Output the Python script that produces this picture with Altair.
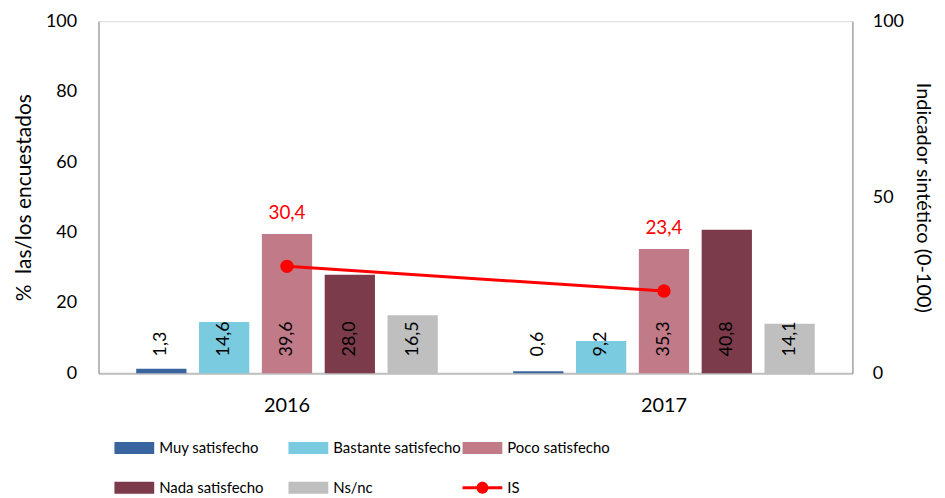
import altair as alt
import pandas as pd

years = ["2016", "2017"]
categories = ["Muy satisfecho", "Bastante satisfecho", "Poco satisfecho", "Nada satisfecho", "Ns/nc"]
values_2016 = [1.3, 14.6, 39.6, 28.0, 16.5]
values_2017 = [0.6, 9.2, 35.3, 40.8, 14.1]
is_values = [30.4, 23.4]
colors = ["#3A64A0", "#7BCBE0", "#C17A88", "#7B3B4B", "#BFBFBF", "#FF0000"]
legend_domain = categories + ["IS"]

rows = []
for y, vals in zip(years, [values_2016, values_2017]):
    for c, v in zip(categories, vals):
        rows.append({"year": y, "cat": c, "val": v, "lab": f"{v:.1f}".replace(".", ",")})
bars_df = pd.DataFrame(rows)

is_df = pd.DataFrame({
    "year": years,
    "serie": ["IS", "IS"],
    "is": is_values,
    "poco": [values_2016[2], values_2017[2]],
    "lab": [f"{v:.1f}".replace(".", ",") for v in is_values],
})

FONT = "Lato"
color_scale = alt.Scale(domain=legend_domain, range=colors)

rect_path = "M-1,-0.3H1V0.3H-1Z"
line_path = "M-1,-0.07H1V0.07H-1Z M0.3,0 A0.3,0.3 0 1,1 -0.3,0 A0.3,0.3 0 1,1 0.3,0Z"

legend = alt.Legend(
    title=None, orient="none", legendX=16, legendY=409, columns=3, direction="horizontal",
    symbolSize=1600,
    symbolType=alt.ExprRef(expr=f"datum.value === 'IS' ? '{line_path}' : '{rect_path}'"),
    symbolStrokeWidth=0, symbolOpacity=1,
    labelOffset=5, columnPadding=1,
    rowPadding=12, gridAlign="all", labelFontSize=15, labelFont=FONT, labelColor="#000000",
    padding=0,
)

x_enc = alt.X("year:N", title=None, scale=alt.Scale(paddingInner=0, paddingOuter=0),
              axis=alt.Axis(labelAngle=0, labelFontSize=20, labelFont=FONT, labelColor="#000000",
                            ticks=False, labelPadding=22, domainColor="#BFBFBF", domainWidth=2))
xoff = alt.XOffset("cat:N", sort=categories, scale=alt.Scale(paddingInner=0.2, paddingOuter=0.6))
y_left = alt.Scale(domain=[0, 100])

bars = alt.Chart(bars_df).mark_bar().encode(
    x=x_enc,
    xOffset=xoff,
    y=alt.Y("val:Q", scale=y_left, title="%\u00a0 las/los encuestados",
            axis=alt.Axis(values=[0, 20, 40, 60, 80, 100], grid=False, ticks=False, labelPadding=22,
                          labelFontSize=18, labelFont=FONT, labelColor="#000000",
                          titleFontSize=21, titleFont=FONT, titleFontWeight="normal", titleColor="#000000",
                          titlePadding=11, domainColor="#868686")),
    color=alt.Color("cat:N", scale=color_scale, legend=legend),
)

bar_text = alt.Chart(bars_df).mark_text(angle=270, align="left", baseline="middle", fontSize=18,
                                        font=FONT, color="#000000").encode(
    x=alt.X("year:N"),
    xOffset=xoff,
    y=alt.datum(4.8),
    text="lab:N",
)

left_layer = alt.layer(bars, bar_text)

line = alt.Chart(is_df).mark_line(strokeWidth=3, point=alt.OverlayMarkDef(filled=True, size=180, opacity=1)).encode(
    x=alt.X("year:N"),
    y=alt.Y("is:Q", scale=alt.Scale(domain=[0, 100]), title="Indicador sintético (0-100)",
            axis=alt.Axis(orient="right", values=[0, 50, 100], grid=False, ticks=False, labelPadding=20,
                          labelFontSize=18, labelFont=FONT, labelColor="#000000",
                          titleFontSize=20, titleFont=FONT, titleFontWeight="normal", titleColor="#000000",
                          titlePadding=9, domainColor="#868686")),
    color=alt.Color("serie:N", scale=color_scale, legend=legend),
)

is_text = alt.Chart(is_df).mark_text(baseline="middle", dy=-21, fontSize=19, font=FONT, color="#FF0000").encode(
    x=alt.X("year:N"),
    y=alt.Y("poco:Q", scale=alt.Scale(domain=[0, 100])),
    text="lab:N",
)

right_layer = alt.layer(line, is_text)

chart = alt.layer(left_layer, right_layer).resolve_scale(y="independent").properties(
    width=758, height=354,
    padding={"left": 5, "top": 3, "right": 4, "bottom": 0},
).configure_view(stroke="#D9D9D9")

chart.save("out.html", embed_options={"renderer": "svg", "actions": False})
